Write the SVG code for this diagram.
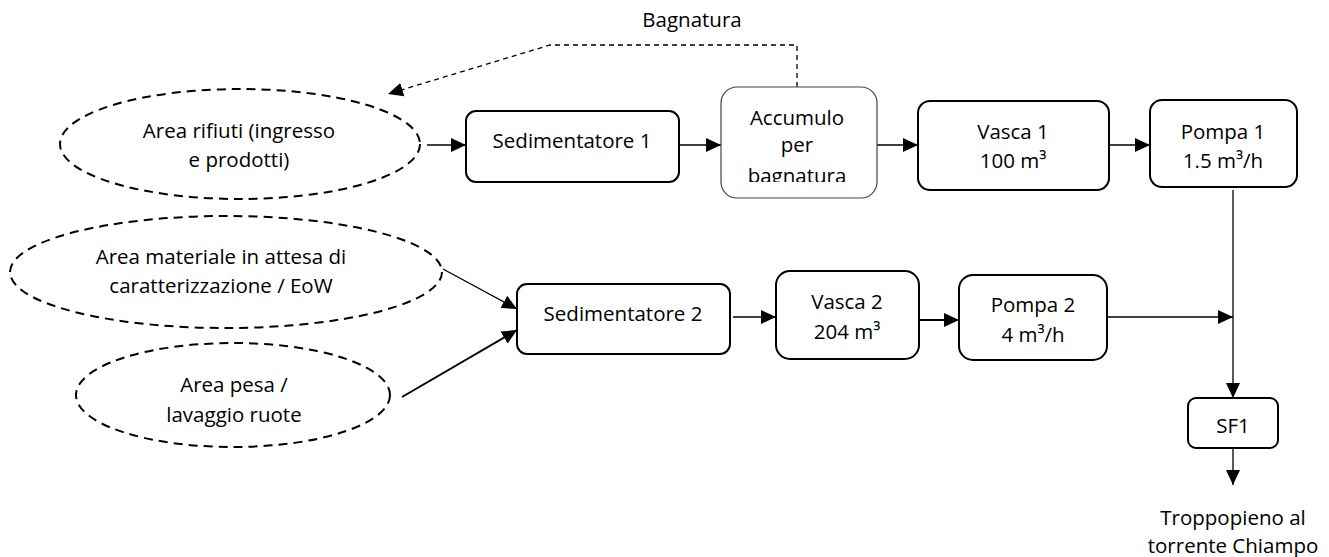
<svg xmlns="http://www.w3.org/2000/svg" width="1329" height="557" viewBox="0 0 1329 557">
<style>
  text { font-family: "Open Sans", "Liberation Sans", sans-serif; font-size: 20.5px; fill: #000; text-anchor: middle; }
  .box { fill: #fff; stroke: #000; stroke-width: 2; }
  .box2 { fill: #fff; stroke: #444; stroke-width: 1.2; }
  .area { fill: none; stroke: #000; stroke-width: 2; stroke-dasharray: 9 6; }
  .conn { fill: none; stroke: #000; stroke-width: 1.3; }
  .thick { stroke-width: 2; }
  .dash { fill: none; stroke: #000; stroke-width: 1.3; stroke-dasharray: 5 4; }
</style>
<defs>
  <marker id="arr" markerUnits="userSpaceOnUse" markerWidth="16" markerHeight="14" refX="15" refY="7" orient="auto">
    <path d="M0,0 L15,7 L0,14 z" fill="#000"/>
  </marker>
  <clipPath id="accClip">
    <rect x="721" y="87" width="156" height="95"/>
  </clipPath>
</defs>
<rect width="1329" height="557" fill="#fff"/>

<g id="connectors">
  <polyline class="dash" points="797,87 797,45 550,45 388,94" marker-end="url(#arr)"/>
  <line class="conn" x1="427" y1="145" x2="466" y2="145" marker-end="url(#arr)"/>
  <line class="conn" x1="679" y1="145" x2="721" y2="145" marker-end="url(#arr)"/>
  <line class="conn" x1="877" y1="145" x2="918" y2="145" marker-end="url(#arr)"/>
  <line class="conn" x1="1109" y1="145" x2="1150" y2="145" marker-end="url(#arr)"/>
  <line class="conn" x1="1233" y1="190" x2="1233" y2="398" marker-end="url(#arr)"/>
  <line class="conn" x1="443" y1="269" x2="517" y2="309" marker-end="url(#arr)"/>
  <line class="conn thick" x1="402" y1="397" x2="517" y2="330" marker-end="url(#arr)"/>
  <line class="conn" x1="733" y1="317" x2="776" y2="317" marker-end="url(#arr)"/>
  <line class="conn thick" x1="919" y1="320" x2="959" y2="320" marker-end="url(#arr)"/>
  <line class="conn" x1="1108" y1="317" x2="1233" y2="317" marker-end="url(#arr)"/>
  <line class="conn" x1="1233" y1="448" x2="1233" y2="485" marker-end="url(#arr)"/>
</g>

<g id="bagnatura-label">
  <text x="692" y="27">Bagnatura</text>
</g>

<g id="area-rifiuti">
  <ellipse class="area" cx="240" cy="144" rx="180" ry="55"/>
  <text x="239" y="138">Area rifiuti (ingresso</text>
  <text x="239" y="167">e prodotti)</text>
</g>

<g id="sedimentatore-1">
  <rect class="box" x="466" y="111" width="213" height="71" rx="10"/>
  <text x="572" y="148">Sedimentatore 1</text>
</g>

<g id="accumulo">
  <rect class="box2" x="721" y="87" width="156" height="111" rx="16"/>
  <g clip-path="url(#accClip)">
    <text x="797" y="125">Accumulo</text>
    <text x="797" y="152">per</text>
    <text x="797" y="183">bagnatura</text>
  </g>
</g>

<g id="vasca-1">
  <rect class="box" x="918" y="101" width="191" height="89" rx="12"/>
  <text x="1013" y="139">Vasca 1</text>
  <text x="1013" y="168">100 m³</text>
</g>

<g id="pompa-1">
  <rect class="box" x="1150" y="100" width="147" height="87" rx="12"/>
  <text x="1223" y="139">Pompa 1</text>
  <text x="1223" y="168">1.5 m³/h</text>
</g>

<g id="area-materiale">
  <ellipse class="area" cx="226" cy="272" rx="216" ry="56"/>
  <text x="221" y="264">Area materiale in attesa di</text>
  <text x="221" y="293">caratterizzazione / EoW</text>
</g>

<g id="area-pesa">
  <ellipse class="area" cx="233" cy="395" rx="157" ry="52"/>
  <text x="234" y="392">Area pesa /</text>
  <text x="234" y="422">lavaggio ruote</text>
</g>

<g id="sedimentatore-2">
  <rect class="box" x="517" y="284" width="213" height="70" rx="10"/>
  <text x="623" y="321">Sedimentatore 2</text>
</g>

<g id="vasca-2">
  <rect class="box" x="776" y="271" width="143" height="88" rx="14"/>
  <text x="847" y="309">Vasca 2</text>
  <text x="847" y="339">204 m³</text>
</g>

<g id="pompa-2">
  <rect class="box" x="959" y="275" width="148" height="85" rx="14"/>
  <text x="1033" y="312">Pompa 2</text>
  <text x="1033" y="342">4 m³/h</text>
</g>

<g id="sf1">
  <rect class="box" x="1188" y="398" width="90" height="50" rx="8"/>
  <text x="1233" y="433">SF1</text>
</g>

<g id="troppopieno-label">
  <text x="1233" y="525">Troppopieno al</text>
  <text x="1233" y="553">torrente Chiampo</text>
</g>
</svg>
